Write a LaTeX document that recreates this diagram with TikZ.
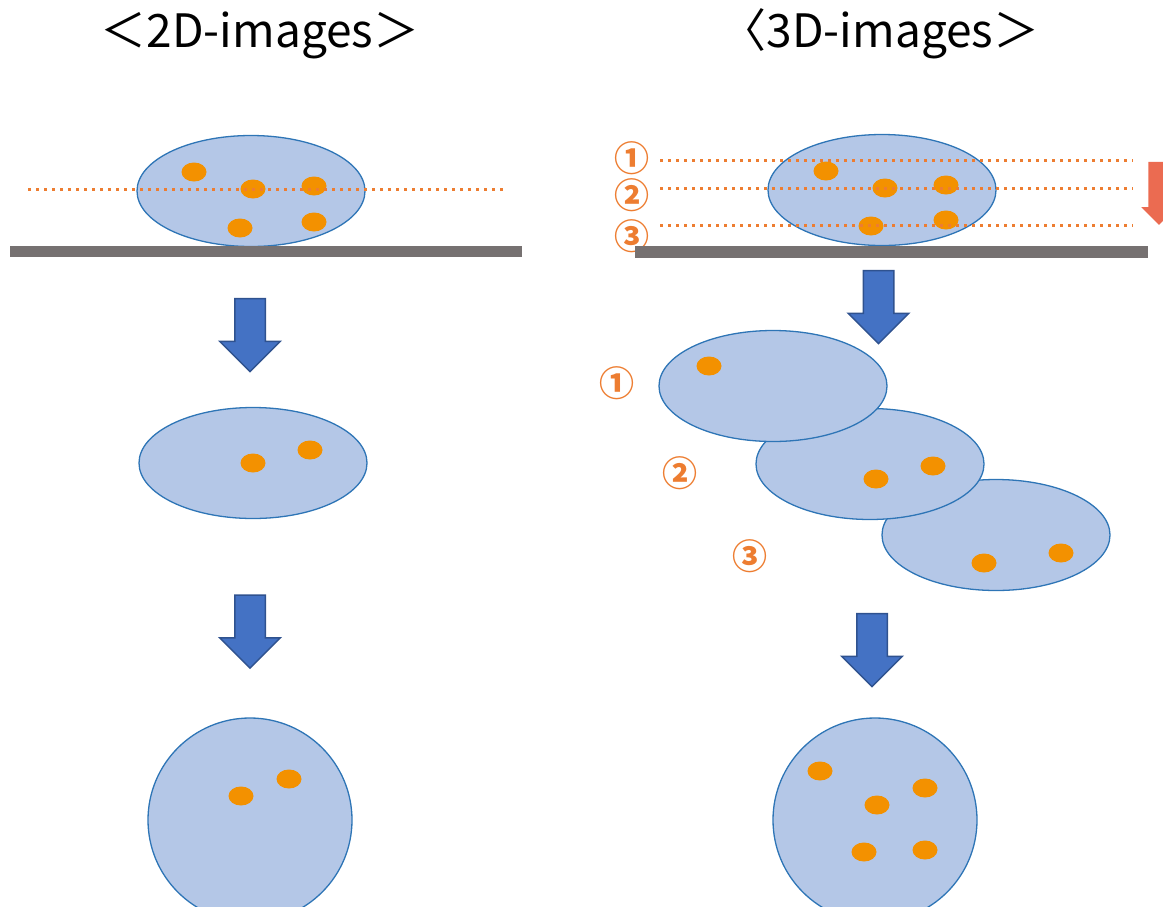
\documentclass[tikz,border=0pt]{standalone}
\usepackage{fontspec}
\newfontfamily\jpfont{Noto Sans CJK JP}
\usetikzlibrary{shapes.geometric, shapes.arrows, positioning}
\definecolor{cellfill}{HTML}{B4C7E7}
\definecolor{celledge}{HTML}{2E75B6}
\definecolor{spotorange}{HTML}{F39100}
\definecolor{slice}{HTML}{ED7D31}
\definecolor{stagegray}{HTML}{767171}
\definecolor{flow}{HTML}{4472C4}
\definecolor{flowedge}{HTML}{2F528F}
\definecolor{scan}{HTML}{EB6B51}
\tikzset{
  cell/.style={ellipse, draw=celledge, fill=cellfill, line width=1.3pt,
               minimum width=228pt, minimum height=111pt, inner sep=0pt},
  disc/.style={circle, draw=celledge, fill=cellfill, line width=1.3pt,
               minimum size=204pt, inner sep=0pt},
  spot/.style={ellipse, fill=spotorange, minimum width=25pt,
               minimum height=19pt, inner sep=0pt},
  plane/.style={slice, line width=3pt, dash pattern=on 3pt off 5pt},
  down/.style={single arrow, rotate=-90, fill=flow, draw=flowedge,
               line width=1.5pt, inner sep=0pt, text height=29pt,
               minimum height=73pt, single arrow head extend=15pt,
               single arrow head indent=0pt},
  num/.style={text=slice, font=\jpfont\bfseries\fontsize{35}{35}\selectfont, inner sep=0pt},
  title/.style={font=\jpfont\fontsize{46}{50}\selectfont, inner sep=0pt, anchor=base},
}

\begin{document}
\begin{tikzpicture}[x=1pt, y=-1pt]
  \useasboundingbox (0,0) rectangle (1163,906);

  % headings
  \node[title] (t2d) at (260,47) {＜2D-images＞};
  \node[title] (t3d) at (880,47) {〈3D-images＞};

  % ---- 2D column ----
  \node[cell] (c2d) at (251,191) {};
  \foreach \x/\y [count=\i] in {194/172, 253/189, 314/186, 240/228, 314/222}
    \node[spot] (c2d-\i) at (\x,\y) {};
  \draw[plane] (28,189) -- (503,189);
  \fill[stagegray] (10,246) rectangle (522,257);

  \node[down] (a2d1) at (250,327.5) {};

  \node[cell] (m2d) at (253,463) {};
  \foreach \x/\y [count=\i] in {253/463, 310/450}
    \node[spot] (m2d-\i) at (\x,\y) {};

  \node[down] (a2d2) at (250,624) {};

  \node[disc] (b2d) at (250,820) {};
  \foreach \x/\y [count=\i] in {241/796, 289/779}
    \node[spot] (b2d-\i) at (\x,\y) {};

  % ---- 3D column ----
  \node[cell] (c3d) at (882,190) {};
  \foreach \x/\y [count=\i] in {826/171, 885/188, 946/185, 871/226, 946/220}
    \node[spot] (c3d-\i) at (\x,\y) {};
  \foreach \y in {160, 188, 225}
    \draw[plane] (660,\y) -- (1133,\y);
  \node[num] (z1) at (632,158) {①};
  \node[num] (z2) at (632,195) {②};
  \node[num] (z3) at (632,236) {③};
  \fill[stagegray] (635,246) rectangle (1148,258);
  \node[down, fill=scan, draw=none, text height=20pt, minimum height=63pt,
        single arrow head extend=7pt] (sweep) at (1159,188) {};

  \node[down] (a3d1) at (878.5,299.5) {};

  % sections, bottom one first
  \node[cell] (s3) at (996,535) {};
  \foreach \x/\y [count=\i] in {984/563, 1061/553}
    \node[spot] (s3-\i) at (\x,\y) {};
  \node[cell] (s2) at (870,464) {};
  \foreach \x/\y [count=\i] in {876/479, 933/466}
    \node[spot] (s2-\i) at (\x,\y) {};
  \node[cell] (s1) at (773,386) {};
  \node[spot] (s1-1) at (709,366) {};
  \node[num] (n1) at (617,383) {①};
  \node[num] (n2) at (680,473) {②};
  \node[num] (n3) at (750,556) {③};

  \node[down] (a3d2) at (872,642.5) {};

  \node[disc] (b3d) at (875,820) {};
  \foreach \x/\y [count=\i] in {820/771, 925/788, 877/805, 864/852, 925/850}
    \node[spot] (b3d-\i) at (\x,\y) {};
\end{tikzpicture}
\end{document}
